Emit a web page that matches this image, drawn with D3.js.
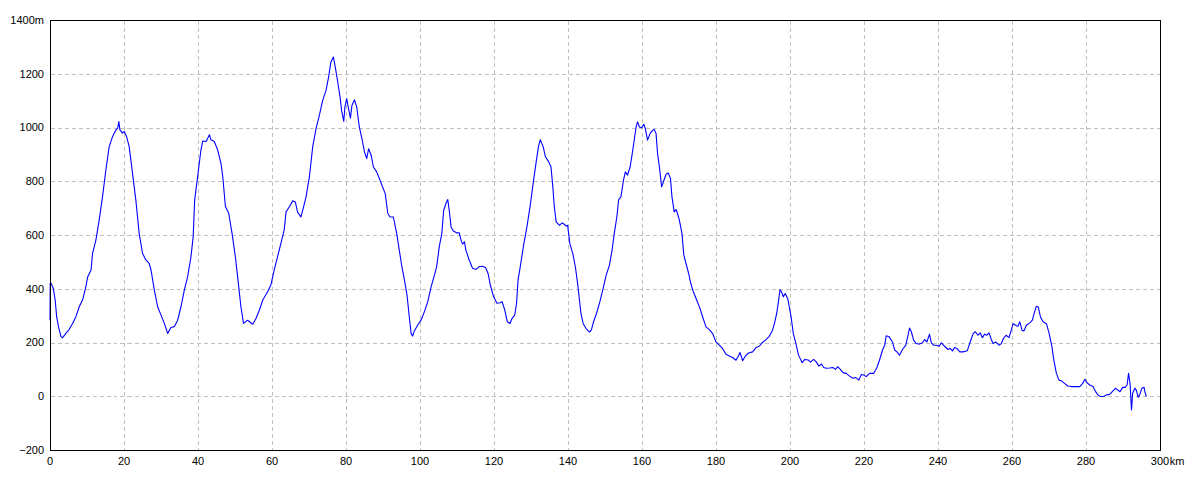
<!DOCTYPE html>
<html>
<head>
<meta charset="utf-8">
<script src="https://cdn.jsdelivr.net/npm/d3@7"></script>
<style>
  html, body { margin: 0; padding: 0; background: #fff; }
  svg { display: block; }
  .tick-label { font-family: "Liberation Sans", Arial, sans-serif; font-size: 11px; fill: #000; }
</style>
</head>
<body>
<div id="chart"></div>
<script>
// elevation profile: [distance km, elevation m]
const profile = [
  [0, 283], [0.05, 420], [0.3, 420], [0.9, 401], [1.4, 358], [1.8, 296], [2.3, 258], [3.0, 221], [3.4, 218],
  [4.3, 234], [5.2, 249], [6.1, 271], [7.0, 296], [7.9, 333], [8.8, 358], [9.7, 408], [10.2, 445], [11.1, 470],
  [11.5, 532], [12.4, 581], [13.3, 656], [14.2, 743], [15.1, 842], [16.0, 929], [16.9, 966], [17.8, 991],
  [18.3, 998], [18.6, 1022], [18.9, 991], [19.6, 979], [20.1, 985], [20.7, 966], [21.4, 929], [22.3, 830],
  [23.2, 730], [24.1, 606], [25.0, 532], [25.9, 507], [26.8, 494], [27.3, 470], [28.2, 395], [29.1, 333],
  [30.0, 302], [30.9, 271], [31.8, 234], [32.7, 256], [33.6, 259], [34.5, 283], [35.4, 333], [36.3, 395],
  [37.2, 445], [38.1, 519], [38.7, 594], [39.1, 730], [39.9, 817], [40.8, 917], [41.3, 950], [42.2, 948],
  [43.1, 973], [43.5, 954], [44.4, 948], [45.3, 917], [46.2, 867], [46.7, 817], [47.4, 706], [48.3, 681],
  [49.2, 606], [50.1, 519], [51.0, 408], [51.6, 333], [52.3, 271], [52.5, 273], [53.4, 283], [54.8, 268],
  [55.7, 290], [56.6, 321], [57.5, 358], [58.8, 389], [59.7, 414], [60.6, 470], [61.5, 519], [62.4, 569],
  [63.3, 619], [63.8, 686], [64.7, 705], [65.6, 727], [66.3, 723], [66.9, 686], [67.8, 667], [68.3, 692],
  [69.2, 742], [70.1, 816], [71.0, 928], [71.9, 996], [72.8, 1045], [73.7, 1101], [74.6, 1138], [75.3, 1188],
  [75.9, 1243], [76.6, 1262], [77.1, 1225], [77.7, 1175], [78.4, 1113], [78.8, 1064], [79.4, 1023],
  [79.7, 1076], [80.2, 1107], [80.6, 1076], [81.2, 1035], [81.6, 1082], [82.3, 1103], [82.9, 1076],
  [83.6, 1002], [84.3, 959], [85.0, 909], [85.6, 884], [86.1, 921], [86.8, 897], [87.4, 853], [88.3, 835],
  [89.2, 804], [89.7, 785], [90.6, 754], [91.3, 680], [91.9, 667], [92.8, 667], [93.7, 606], [94.4, 544],
  [95.1, 482], [95.8, 432], [96.5, 376], [97.1, 296], [97.6, 234], [98.0, 224], [98.5, 244], [99.4, 265],
  [100.3, 284], [101.2, 315], [102.1, 352], [103.0, 407], [103.9, 451], [104.5, 482], [105.2, 556],
  [105.9, 606], [106.4, 692], [107.0, 717], [107.5, 732], [107.9, 692], [108.4, 630], [109.0, 615],
  [109.9, 608], [110.6, 608], [111.1, 581], [111.5, 566], [112.0, 575], [112.4, 544], [113.3, 507],
  [114.2, 476], [115.1, 472], [116.0, 482], [116.8, 484], [117.7, 479], [118.4, 457], [119.0, 414],
  [119.9, 370], [120.8, 346], [121.7, 348], [122.2, 352], [122.9, 321], [123.6, 277], [124.3, 271],
  [124.9, 290], [125.6, 302], [126.1, 346], [126.5, 432], [127.1, 482], [128.0, 562], [128.9, 630],
  [129.8, 711], [130.7, 804], [131.4, 872], [132.0, 928], [132.5, 955], [133.3, 928], [133.9, 891],
  [134.8, 872], [135.4, 854], [135.9, 779], [136.3, 705], [136.8, 649], [137.7, 636], [138.4, 645],
  [139.0, 640], [139.5, 633], [139.9, 636], [140.5, 568], [141.3, 531], [142.0, 481], [142.6, 419],
  [143.1, 357], [143.5, 308], [144.1, 270], [144.9, 252], [145.8, 239], [146.3, 246], [146.9, 277],
  [147.7, 308], [148.6, 351], [149.5, 401], [150.3, 450], [151.2, 488], [151.9, 543], [152.5, 605],
  [153.2, 667], [153.7, 732], [154.3, 742], [155.0, 804], [155.5, 835], [156.1, 823], [156.8, 854],
  [157.3, 897], [157.9, 953], [158.4, 1002], [158.8, 1021], [159.3, 1002], [159.9, 999], [160.5, 1012],
  [160.9, 996], [161.5, 953], [162.2, 978], [162.9, 990], [163.3, 993], [163.8, 978], [164.2, 903],
  [164.7, 854], [165.3, 779], [165.8, 798], [166.5, 826], [167.1, 831], [167.7, 810], [168.1, 742],
  [168.7, 686], [169.2, 695], [169.6, 680], [170.1, 655], [170.8, 605], [171.3, 525], [171.9, 494],
  [172.6, 457], [173.2, 419], [173.9, 388], [174.8, 357], [175.7, 326], [176.4, 295], [177.3, 258],
  [178.2, 248], [179.1, 233], [180.0, 202], [180.9, 190], [181.8, 177], [182.7, 156], [183.6, 150],
  [184.5, 144], [185.4, 134], [185.9, 146], [186.5, 163], [187.2, 132], [187.9, 149], [188.8, 161],
  [189.9, 165], [190.8, 181], [191.7, 186], [192.4, 198], [193.5, 211], [194.4, 223], [195.3, 246],
  [195.9, 277], [196.4, 308], [196.8, 345], [197.3, 397], [197.7, 388], [198.2, 370], [198.7, 382],
  [199.4, 363], [199.8, 332], [200.3, 295], [200.9, 233], [201.6, 196], [202.3, 153], [203.3, 125],
  [204.0, 137], [204.9, 135], [205.5, 127], [206.4, 137], [207.1, 128], [207.8, 112], [208.5, 120],
  [209.1, 107], [209.8, 104], [210.7, 105], [211.6, 107], [212.3, 100], [212.9, 110], [213.6, 100],
  [214.3, 88], [215.2, 85], [216.1, 75], [217.0, 67], [217.7, 70], [218.6, 60], [219.3, 81], [219.9, 79],
  [220.6, 73], [221.5, 85], [222.6, 85], [223.5, 107], [224.2, 135], [225.0, 172], [225.6, 190],
  [226.0, 225], [226.8, 221], [227.7, 202], [228.3, 172], [228.9, 165], [229.6, 153], [230.4, 174],
  [231.3, 190], [231.9, 227], [232.3, 254], [232.8, 240], [233.4, 209], [234.1, 196], [235.0, 194],
  [235.8, 199], [236.4, 211], [237.0, 202], [237.7, 231], [238.2, 199], [238.8, 190], [239.5, 190],
  [240.3, 186], [240.9, 199], [241.8, 186], [242.7, 174], [243.3, 178], [243.9, 169], [244.5, 181],
  [245.1, 178], [245.9, 165], [246.8, 165], [247.9, 169], [248.7, 202], [249.5, 233], [250.1, 240],
  [250.8, 227], [251.4, 236], [252.0, 218], [252.6, 231], [253.2, 227], [253.8, 236], [254.4, 211],
  [254.9, 196], [255.6, 202], [256.5, 190], [257.1, 196], [257.7, 215], [258.4, 227], [259.2, 218],
  [259.8, 246], [260.3, 270], [261.0, 264], [261.6, 260], [262.1, 277], [262.7, 246], [263.2, 243],
  [263.9, 264], [264.8, 273], [265.5, 283], [266.1, 314], [266.6, 335], [267.1, 332], [267.7, 295],
  [268.4, 277], [269.3, 270], [270.0, 236], [270.8, 184], [271.3, 135], [272.0, 85], [272.7, 60],
  [273.3, 58], [274.2, 48], [275.1, 38], [276.0, 36], [277.2, 36], [278.3, 36], [279.0, 46], [279.7, 63],
  [280.2, 51], [281.0, 42], [281.9, 36], [282.6, 17], [283.2, 5], [283.9, -1], [284.8, -1], [285.5, 5],
  [286.4, 7], [287.1, 17], [288.0, 30], [288.6, 23], [289.2, 17], [289.9, 33], [290.6, 33], [291.1, 42],
  [291.5, 85], [291.9, 48], [292.3, -51], [292.6, 11], [293.2, 30], [293.6, 23], [294.1, -4], [294.5, 5],
  [295.1, 30], [295.7, 33], [295.9, 17], [296.3, -1]
];

const xTicks = d3.range(0, 301, 20);
const yTicks = d3.range(-200, 1401, 200);

const W = 1200, H = 480;
const x = d3.scaleLinear().domain([0, 300]).range([50, 1160]);
const y = d3.scaleLinear().domain([-200, 1400]).range([450, 20]);
const px = v => Math.round(v) + 0.5;

const svg = d3.select('#chart').append('svg')
  .attr('width', W)
  .attr('height', H);

// grid
const grid = svg.append('g')
  .attr('stroke', '#c0c0c0')
  .attr('stroke-width', 1)
  .attr('stroke-dasharray', '4,3')
  .attr('shape-rendering', 'crispEdges');

grid.selectAll('.gx')
  .data(xTicks.filter(d => d > 0 && d < 300))
  .join('line')
    .attr('x1', d => px(x(d))).attr('x2', d => px(x(d)))
    .attr('y1', px(y(1400))).attr('y2', px(y(-200)));

grid.selectAll('.gy')
  .data(yTicks.filter(d => d > -200 && d < 1400))
  .join('line')
    .attr('x1', px(x(0))).attr('x2', px(x(300)))
    .attr('y1', d => px(y(d))).attr('y2', d => px(y(d)));

// profile line
const line = d3.line()
  .x(d => x(d[0]))
  .y(d => y(d[1]));

svg.append('path')
  .datum(profile)
  .attr('d', line)
  .attr('fill', 'none')
  .attr('stroke', '#0000ff')
  .attr('stroke-width', 1.1)
  .attr('stroke-linejoin', 'round');

// frame
svg.append('rect')
  .attr('x', px(x(0))).attr('y', px(y(1400)))
  .attr('width', Math.round(x(300)) - Math.round(x(0)))
  .attr('height', Math.round(y(-200)) - Math.round(y(1400)))
  .attr('fill', 'none')
  .attr('stroke', '#000')
  .attr('shape-rendering', 'crispEdges');

// y labels
svg.append('g').selectAll('text')
  .data(yTicks)
  .join('text')
    .attr('class', 'tick-label')
    .attr('x', 44)
    .attr('y', d => y(d))
    .attr('dy', '0.36em')
    .attr('text-anchor', 'end')
    .text(d => d === 1400 ? '1400m' : (d < 0 ? '\u2212' + Math.abs(d) : d));

// x labels
const xl = svg.append('g');
xl.selectAll('text')
  .data(xTicks)
  .join('text')
    .attr('class', 'tick-label')
    .attr('x', d => x(d))
    .attr('y', 464.5)
    .attr('text-anchor', 'middle')
    .text(d => d);

// unit after the last x label
const last = xl.selectAll('text').filter(d => d === 300).node().getBBox();
xl.append('text')
  .attr('class', 'tick-label')
  .attr('x', last.x + last.width + 0.5)
  .attr('y', 464.5)
  .text('km');
</script>
</body>
</html>
